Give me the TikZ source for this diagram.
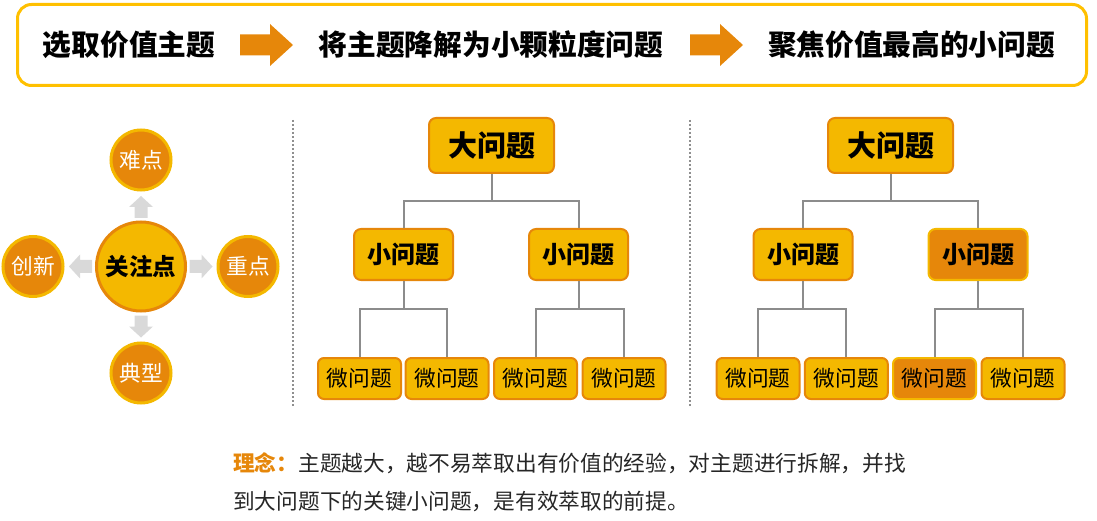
\documentclass[tikz,border=0pt]{standalone}
\usepackage{fontspec}
\setmainfont{Noto Sans CJK SC}
\usetikzlibrary{calc}
\definecolor{yel}{HTML}{F4B800}
\definecolor{org}{HTML}{E6870A}
\definecolor{boxline}{HTML}{FFC000}
\definecolor{conn}{HTML}{8C8C8C}
\definecolor{garrow}{HTML}{D9D9D9}
\definecolor{txt}{HTML}{262626}
\definecolor{dotc}{HTML}{8F8F8F}
% x y angle len bodyw headw headlen color
\newcommand\blkarrow[8]{%
  \fill[#8, shift={(#1,#2)}, rotate=#3]
    ({-#4/2},{-#5/2}) -- ({#4/2-#7},{-#5/2}) -- ({#4/2-#7},{-#6/2}) -- ({#4/2},0)
    -- ({#4/2-#7},{#6/2}) -- ({#4/2-#7},{#5/2}) -- ({-#4/2},{#5/2}) -- cycle;}
\begin{document}
\begin{tikzpicture}[x=1pt,y=-1pt,
  toptext/.style={inner sep=0pt, font={\fontsize{28.7}{30}\selectfont\bfseries}, text height=25.3pt, text depth=3.4pt},
  bigq/.style={draw=org, fill=yel, line width=2pt, rounded corners=7pt, minimum width=125pt, minimum height=55pt, inner sep=0pt,
     font={\fontsize{29}{30}\selectfont\bfseries}, text height=25.5pt, text depth=3.5pt},
  smallq/.style={draw=org, fill=yel, line width=2pt, rounded corners=7pt, minimum width=99pt, minimum height=51pt, inner sep=0pt,
     font={\fontsize{24}{26}\selectfont\bfseries}, text height=21.1pt, text depth=2.9pt},
  microq/.style={draw=org, fill=yel, line width=2pt, rounded corners=6pt, minimum width=83pt, minimum height=41pt, inner sep=0pt,
     font={\fontsize{21.7}{24}\selectfont}, text height=19.1pt, text depth=2.6pt},
  hiq/.style={fill=org, draw=yel},
  focus/.style={circle, draw=org, fill=yel, line width=3pt, minimum size=89pt, inner sep=0pt,
     font={\fontsize{23.5}{25}\selectfont\bfseries}, text height=20.7pt, text depth=2.8pt},
  aspect/.style={circle, draw=yel, fill=org, line width=3pt, minimum size=60pt, inner sep=0pt, text=white,
     font={\fontsize{21.7}{24}\selectfont}, text height=19.1pt, text depth=2.6pt},
  connline/.style={draw=conn, line width=2pt},
  dotline/.style={draw=dotc, line width=2pt, dash pattern=on 2pt off 2pt},
  bottomtext/.style={inner sep=0pt, text=txt, font={\fontsize{21.7}{24}\selectfont}, text height=19.1pt, text depth=2.6pt}
]
\useasboundingbox (0,0) rectangle (1097,521);

% top banner
\node[draw=boxline, line width=3pt, rounded corners=14pt, minimum width=1069pt, minimum height=81pt] (topbox) at (552,45) {};
\node[toptext] (t1) at (129,45) {选取价值主题};
\node[toptext] (t2) at (491,45) {将主题降解为小颗粒度问题};
\node[toptext] (t3) at (911.5,45) {聚焦价值最高的小问题};
\blkarrow{266.5}{45}{0}{53}{21}{42}{23}{org}
\blkarrow{716.5}{45}{0}{53}{21}{42}{23}{org}

% left cluster
\node[focus] (gz) at (141,266.5) {关注点};
\node[aspect] (nd) at (141,160) {难点};
\node[aspect] (cx) at (33,266.5) {创新};
\node[aspect] (zd) at (248,266.5) {重点};
\node[aspect] (dx) at (141,373) {典型};
\blkarrow{141}{207}{90}{22}{13}{24}{11}{garrow}
\blkarrow{141}{326.5}{-90}{22}{13}{24}{11}{garrow}
\blkarrow{201}{266.5}{0}{23}{13}{24}{11}{garrow}
\blkarrow{80.5}{266.5}{180}{23}{13}{24}{11}{garrow}

% separators
\coordinate (d1a) at (293,120);
\coordinate (d1b) at (293,407);
\coordinate (d2a) at (690,120);
\coordinate (d2b) at (690,407);
\draw[dotline] (d1a) -- (d1b);
\draw[dotline] (d2a) -- (d2b);

% tree 1
\node[bigq] (b1) at (491.5,145.5) {大问题};
\node[smallq] (s1) at (403.5,254.5) {小问题};
\node[smallq] (s2) at (578.5,254.5) {小问题};
\node[microq] (m1) at (359.5,378.5) {微问题};
\node[microq] (m2) at (447,378.5) {微问题};
\node[microq] (m3) at (535.5,378.5) {微问题};
\node[microq] (m4) at (624,378.5) {微问题};
\draw[connline] (b1.south) -- ++(0,27);
\draw[connline] (s1.north) |- ($(b1.south)+(0,27)$) -| (s2.north);
\draw[connline] (s1.south) -- ++(0,28);
\draw[connline] (m1.north) |- ($(s1.south)+(0,28)$) -| (m2.north);
\draw[connline] (s2.south) -- ++(0,28);
\draw[connline] (m3.north) |- ($(s2.south)+(0,28)$) -| (m4.north);

% tree 2
\node[bigq] (b2) at (890.5,145.5) {大问题};
\node[smallq] (s3) at (803,254.5) {小问题};
\node[smallq, hiq] (s4) at (978,254.5) {小问题};
\node[microq] (m5) at (758,378.5) {微问题};
\node[microq] (m6) at (846.3,378.5) {微问题};
\node[microq, hiq] (m7) at (934.5,378.5) {微问题};
\node[microq] (m8) at (1023,378.5) {微问题};
\draw[connline] (b2.south) -- ++(0,27);
\draw[connline] (s3.north) |- ($(b2.south)+(0,27)$) -| (s4.north);
\draw[connline] (s3.south) -- ++(0,28);
\draw[connline] (m5.north) |- ($(s3.south)+(0,28)$) -| (m6.north);
\draw[connline] (s4.south) -- ++(0,28);
\draw[connline] (m7.north) |- ($(s4.south)+(0,28)$) -| (m8.north);

% bottom text
\node[bottomtext, anchor=west] (p1) at (233,463) {\textcolor{org}{\bfseries 理念：}主题越大，越不易萃取出有价值的经验，对主题进行拆解，并找};
\node[bottomtext, anchor=west] (p2) at (233,501) {到大问题下的关键小问题，是有效萃取的前提。};
\end{tikzpicture}
\end{document}
